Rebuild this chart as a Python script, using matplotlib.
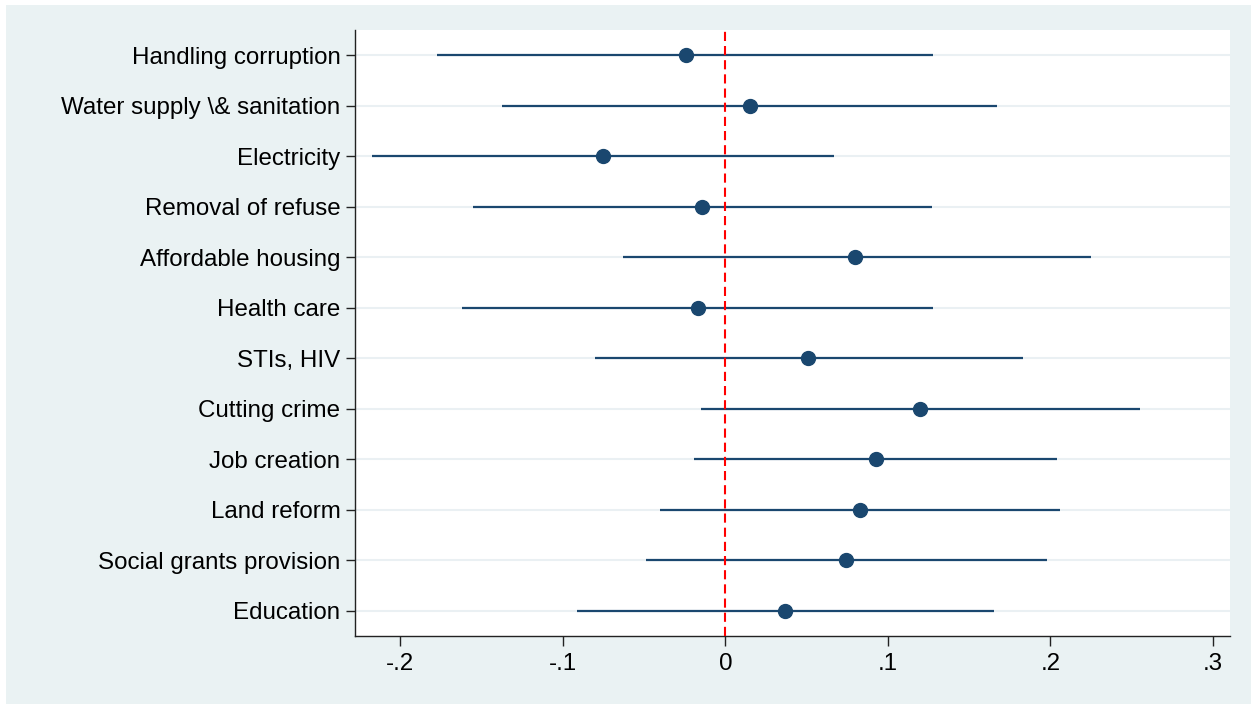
import matplotlib.pyplot as plt
from matplotlib.patches import Rectangle

plt.rcParams['font.family'] = ['Liberation Sans', 'DejaVu Sans']

# coefficient plot: point estimates with confidence intervals
services = ["Handling corruption", r"Water supply \& sanitation", "Electricity",
            "Removal of refuse", "Affordable housing", "Health care", "STIs, HIV",
            "Cutting crime", "Job creation", "Land reform",
            "Social grants provision", "Education"]
coef = [-0.024, 0.015, -0.075, -0.014, 0.080, -0.017, 0.051, 0.120, 0.093, 0.083, 0.074, 0.037]
ci_lo = [-0.177, -0.137, -0.217, -0.155, -0.063, -0.162, -0.080, -0.015, -0.019, -0.040, -0.049, -0.091]
ci_hi = [0.128, 0.167, 0.067, 0.127, 0.225, 0.128, 0.183, 0.255, 0.204, 0.206, 0.198, 0.165]
xticks = [-0.2, -0.1, 0, 0.1, 0.2, 0.3]
xticklabels = ["-.2", "-.1", "0", ".1", ".2", ".3"]

navy = "#1a476f"

fig = plt.figure(figsize=(12.51, 7.04), dpi=100, facecolor="white")
fig.patches.append(Rectangle((6 / 1251, 0), 1, 699 / 704, transform=fig.transFigure,
                             facecolor="#eaf2f3", edgecolor="none", zorder=-5))
ax = fig.add_axes([355 / 1251, 1 - 636 / 704, 875 / 1251, 606 / 704])
ax.set_zorder(1)
ax.set_facecolor("white")

n = len(services)
ypos = list(range(n, 0, -1))

for y in ypos:
    ax.axhline(y, color="#eaf0f3", lw=1.5, zorder=1)

ax.hlines(ypos, ci_lo, ci_hi, color=navy, lw=1.6, zorder=2)
ax.axvline(0, color="red", lw=1.5, dashes=(4.4, 2.4), zorder=3)
ax.plot(coef, ypos, "o", color=navy, markersize=10, zorder=4)

ax.set_xlim(-0.2277, 0.3104)
ax.set_ylim(0.5, 12.5)
ax.set_yticks(ypos)
ax.set_yticklabels(services)
ax.set_xticks(xticks)
ax.set_xticklabels(xticklabels)

ax.spines["top"].set_visible(False)
ax.spines["right"].set_visible(False)
for s in ("left", "bottom"):
    ax.spines[s].set_color("#222222")
    ax.spines[s].set_linewidth(1.0)
ax.tick_params(axis="y", length=6.5, width=1.0, pad=4, labelsize=17.4, colors="#222222", labelcolor="black")
ax.tick_params(axis="x", length=7, width=1.0, pad=5, labelsize=17.4, colors="#222222", labelcolor="black")

fig.savefig("out.png", dpi=100, facecolor="white")
